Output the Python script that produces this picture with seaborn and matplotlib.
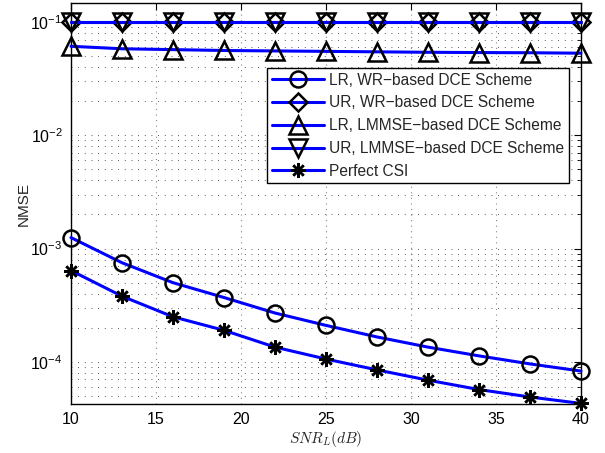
import numpy as np
import pandas as pd
import matplotlib
matplotlib.use("Agg")
import matplotlib.pyplot as plt
import seaborn as sns
from matplotlib.ticker import LogLocator, NullFormatter, FixedLocator

snr = [10, 13, 16, 19, 22, 25, 28, 31, 34, 37, 40]
lr_wr = [1.25e-3, 7.5e-4, 5.0e-4, 3.7e-4, 2.7e-4, 2.1e-4, 1.66e-4, 1.35e-4, 1.13e-4, 9.6e-5, 8.3e-5]
ur_wr = [0.1, 0.1, 0.1, 0.1, 0.1, 0.1, 0.1, 0.1, 0.1, 0.1, 0.1]
lr_lmmse = [0.061, 0.058, 0.057, 0.056, 0.0555, 0.055, 0.0545, 0.054, 0.0537, 0.0535, 0.053]
ur_lmmse = [0.1, 0.1, 0.1, 0.1, 0.1, 0.1, 0.1, 0.1, 0.1, 0.1, 0.1]
perfect = [6.4e-4, 3.8e-4, 2.5e-4, 1.9e-4, 1.35e-4, 1.06e-4, 8.5e-5, 6.9e-5, 5.7e-5, 4.9e-5, 4.3e-5]

labels = ["LR, WR\u2212based DCE Scheme", "UR, WR\u2212based DCE Scheme",
          "LR, LMMSE\u2212based DCE Scheme", "UR, LMMSE\u2212based DCE Scheme",
          "Perfect CSI"]
series = [lr_wr, ur_wr, lr_lmmse, ur_lmmse, perfect]
markers = ["o", "D", "^", "v", (8, 2, 0)]
msizes = [11.5, 9.5, 13, 13, 10.5]

sns.set_style("white")
plt.rcParams['font.family'] = ['Liberation Sans', 'DejaVu Sans']
plt.rcParams['mathtext.fontset'] = 'cm'

fig = plt.figure(figsize=(6.05, 4.53), dpi=100)
ax = fig.add_axes([71/605, 49/453, 510/605, 401/453])

for lab, vals, mk, ms in zip(labels, series, markers, msizes):
    df = pd.DataFrame({"SNR": snr, "NMSE": vals})
    sns.lineplot(data=df, x="SNR", y="NMSE", ax=ax, color="blue", linewidth=2.2,
                 marker=mk, markersize=ms, markeredgecolor="black",
                 markerfacecolor="none", markeredgewidth=1.8, label=lab,
                 clip_on=False, zorder=3)

ax.set_yscale("log")
ax.set_xlim(10, 40)
ax.set_ylim(4.25e-5, 0.147)
ax.xaxis.set_major_locator(FixedLocator([10, 15, 20, 25, 30, 35, 40]))
ax.yaxis.set_major_locator(LogLocator(base=10, numticks=10))
ax.yaxis.set_minor_locator(LogLocator(base=10, subs=np.arange(2, 10), numticks=20))
ax.yaxis.set_minor_formatter(NullFormatter())

ax.grid(True, which="major", axis="x", linestyle=(0, (1, 4)), color="#888888", linewidth=0.8)
ax.grid(True, which="both", axis="y", linestyle=(0, (1, 7)), color="#222222", linewidth=0.6)
ax.set_axisbelow(True)

ax.tick_params(which="both", direction="in", top=True, right=True, labelsize=11.5, colors="black")
ax.tick_params(which="major", length=5, pad=6)
ax.tick_params(which="minor", length=3)
for s in ax.spines.values():
    s.set_color("black")
    s.set_linewidth(1.0)

ax.set_xlabel(r"$SNR_L(dB)$", fontsize=11, labelpad=1)
ax.set_ylabel("NMSE", fontsize=11, labelpad=0)

leg = ax.legend(loc="upper left", bbox_to_anchor=(0.384, 0.838), borderaxespad=0,
                fontsize=11.2, frameon=True, fancybox=False, edgecolor="black",
                handlelength=3.4, handletextpad=0.3, labelspacing=0.5,
                borderpad=0.3, framealpha=1)
leg.get_frame().set_linewidth(1.0)

fig.savefig("out.png", dpi=100, facecolor="white")
